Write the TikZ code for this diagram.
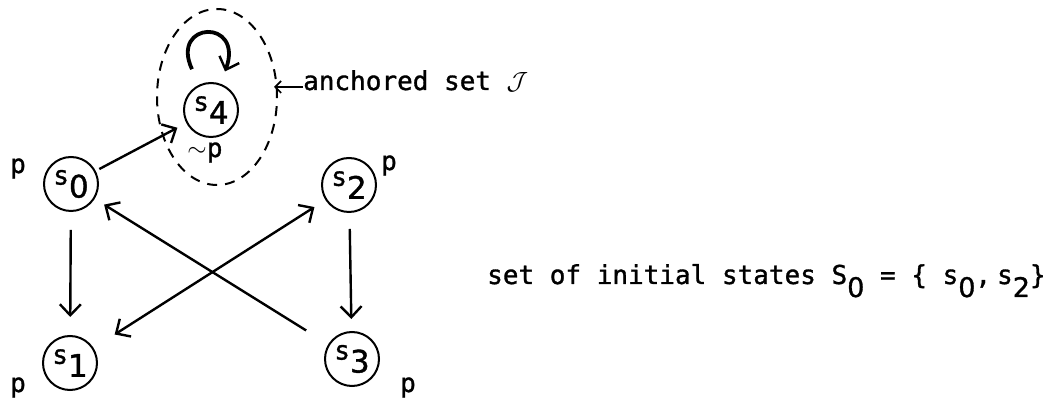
\documentclass[tikz,border=0pt]{standalone}
\usepackage{fontspec}
\setmainfont{DejaVu Sans Mono}[FakeBold=1.2]
\newfontfamily\digitfont{DejaVu Sans}[FakeBold=1.2]
\usetikzlibrary{arrows.meta}
\newcommand{\lo}[2][27]{\raisebox{-13pt}{\digitfont\fontsize{#1}{#1}\selectfont #2}}
\newcommand{\st}[1]{s\lo[31]{#1}}
\begin{document}
\begin{tikzpicture}[x=1pt,y=1pt,line cap=butt,line join=miter,>={Straight Barb[length=11pt,width=21pt,line width=2.4pt]},
		font=\fontsize{26}{28}\selectfont,
		state/.style={circle,draw,line width=2pt,minimum size=54pt,inner sep=0pt},
		link/.style={->,line width=2.4pt,shorten <=12pt,shorten >=10pt},
		selfloop/.style={->,line width=3.8pt,shorten <=17pt,shorten >=13pt},
		txt/.style={anchor=base,inner sep=0pt}]
	\useasboundingbox (0,0) rectangle (1045,404);
	\node[state] (s4) at (211,294) {\st{4}};
	\node[state] (s0) at (71,220) {\st{0}};
	\node[state] (s2) at (349,219) {\st{2}};
	\node[state] (s1) at (70,41) {\st{1}};
	\node[state] (s3) at (352,45) {\st{3}};
	\draw[dashed,dash pattern=on 10pt off 8pt,line width=2pt] (217,307) ellipse [x radius=60,y radius=88];
	% transitions
	\draw[link,shorten <=4pt] (s0) -- (s4);
	\draw[link,shorten <=18pt,shorten >=18pt] (s0) -- (s1);
	\draw[link,shorten <=16pt,shorten >=12pt] (s2) -- (s3);
	\draw[link,shorten <=26pt,shorten >=11pt] (s3) -- (s0);
	\draw[link,<->,shorten <=13pt,shorten >=25pt] (s2) -- (s1);
	\draw[selfloop] (s4) to[out=115,in=70,distance=70pt] (s4);
	% labels
	\node[txt] (p0) at (18,231) {p};
	\node[txt] (p2) at (389,234) {p};
	\node[txt] (p1) at (18,12) {p};
	\node[txt] (p3) at (408,12) {p};
	\node[txt] (np4) at (205,247) {{\fontsize{36}{36}\selectfont$\sim$}p};
	\coordinate (tip) at (274,317);
	\node[txt,anchor=base west] (anch) at (303,314) {anchored set {\fontsize{38}{38}\selectfont$\mathcal{J}$}};
	\draw[->,line width=1.6pt,>={Straight Barb[length=6pt,width=12pt]}] (anch.west|-tip) -- (tip);
	\node[txt,anchor=base west] (init) at (487,120) {set of initial states S\lo{0} = \{ s\lo{0},\kern6pt s\lo{2}\}};
\end{tikzpicture}
\end{document}
